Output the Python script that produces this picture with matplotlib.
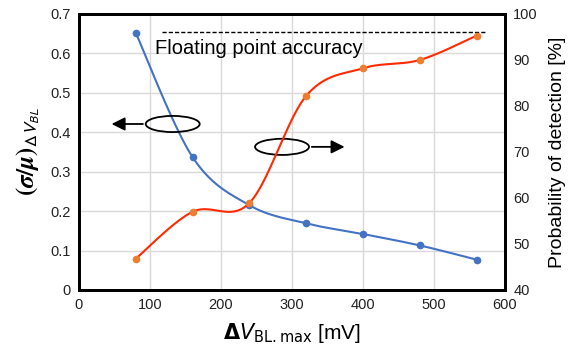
import numpy as np
import matplotlib
matplotlib.use("Agg")
import matplotlib.pyplot as plt
from matplotlib.patches import Ellipse

plt.rcParams['font.family'] = ['Liberation Sans', 'DejaVu Sans']
plt.rcParams['mathtext.fontset'] = 'dejavusans'

# Data
dv_bl_max = [80, 160, 240, 320, 400, 480, 560]            # mV
sigma_mu = [0.652, 0.337, 0.215, 0.169, 0.142, 0.113, 0.077]
p_detect = [46.8, 57.0, 58.9, 82.2, 88.2, 90.0, 95.3]     # %
fp_accuracy = 96.1                                        # %
fp_range = [117, 573]

xlim = (0, 600)
ylim_l = (0, 0.7)
ylim_r = (40, 100)


def smooth(xs, ys, xr, yr, n=40):
    """Cardinal (Catmull-Rom style) smoothing done in normalized axes space."""
    x = (np.asarray(xs, float) - xr[0]) / (xr[1] - xr[0])
    y = (np.asarray(ys, float) - yr[0]) / (yr[1] - yr[0])
    P = np.column_stack([x, y])
    P = np.vstack([P[0], P, P[-1]])
    out = []
    t = np.linspace(0, 1, n)[:, None]
    for i in range(1, len(P) - 2):
        p0, p1, p2, p3 = P[i - 1], P[i], P[i + 1], P[i + 2]
        c1 = p1 + (p2 - p0) / 6
        c2 = p2 - (p3 - p1) / 6
        seg = ((1 - t) ** 3) * p1 + 3 * ((1 - t) ** 2) * t * c1 + 3 * (1 - t) * t ** 2 * c2 + t ** 3 * p2
        out.append(seg if i == 1 else seg[1:])
    out = np.vstack(out)
    return out[:, 0] * (xr[1] - xr[0]) + xr[0], out[:, 1] * (yr[1] - yr[0]) + yr[0]


fig = plt.figure(figsize=(5.69, 3.47), dpi=100)
ax = fig.add_axes([0.1388, 0.1643, 0.8875 - 0.1388, 0.9597 - 0.1643])
ax2 = ax.twinx()

blue = '#4472C4'
orange = '#ED7D31'
red = '#FF2A00'

ax.set_xlim(*xlim)
ax.set_ylim(*ylim_l)
ax2.set_ylim(*ylim_r)

ax.set_xticks(np.arange(0, 601, 100))
ax.set_yticks(np.arange(0, 0.71, 0.1))
ax.set_yticklabels(['0'] + [f'{v:.1f}' for v in np.arange(0.1, 0.71, 0.1)])
ax2.set_yticks(np.arange(40, 101, 10))

ax.grid(True, color='#D9D9D9', linewidth=1.0)
ax.set_axisbelow(True)

for a in (ax, ax2):
    a.tick_params(length=0, labelsize=10.5, pad=6, colors='#222222')
    for s in a.spines.values():
        s.set_linewidth(2.0)
        s.set_color('black')

# Blue curve on left axis
sx, sy = smooth(dv_bl_max, sigma_mu, xlim, ylim_l)
ax.plot(sx, sy, color=blue, lw=1.5, zorder=3)
ax.plot(dv_bl_max, sigma_mu, 'o', color=blue, ms=4.5, zorder=4)

# Red curve on right axis
rx, ry = smooth(dv_bl_max, p_detect, xlim, ylim_r)
ax2.plot(rx, ry, color=red, lw=1.5, zorder=3)
ax2.plot(dv_bl_max, p_detect, 'o', color=orange, ms=4.5, zorder=4)

# Floating point accuracy reference
ax2.plot(fp_range, [fp_accuracy, fp_accuracy], color='black', lw=1.0, ls=(0, (3, 1.5)))
ax2.text(107, 92.5, 'Floating point accuracy', fontsize=14.5, va='center', ha='left')

# Axis indicators: ellipse + arrow
ax.add_patch(Ellipse((132, 0.421), 76, 0.041, fill=False, lw=1.3, ec='black', zorder=5))
ax.annotate('', xy=(42, 0.421), xytext=(94, 0.421),
            arrowprops=dict(arrowstyle='-|>', color='black', lw=1.3, mutation_scale=20))
ax.add_patch(Ellipse((286, 0.363), 76, 0.041, fill=False, lw=1.3, ec='black', zorder=5))
ax.annotate('', xy=(378, 0.363), xytext=(324, 0.363),
            arrowprops=dict(arrowstyle='-|>', color='black', lw=1.3, mutation_scale=20))

ax.set_xlabel(r'$\mathbf{\Delta}\mathit{V}_{\mathrm{BL.max}}$ [mV]', fontsize=15, labelpad=6)
ax.set_ylabel(r'$\boldsymbol{(\sigma/\mu)}_{\mathsf{\Delta V}_{\mathsf{BL}}}$', fontsize=18, labelpad=6,
              math_fontfamily='stix')
ax2.set_ylabel('Probability of detection [%]', fontsize=14, labelpad=8)

fig.savefig('out.png', dpi=100)
